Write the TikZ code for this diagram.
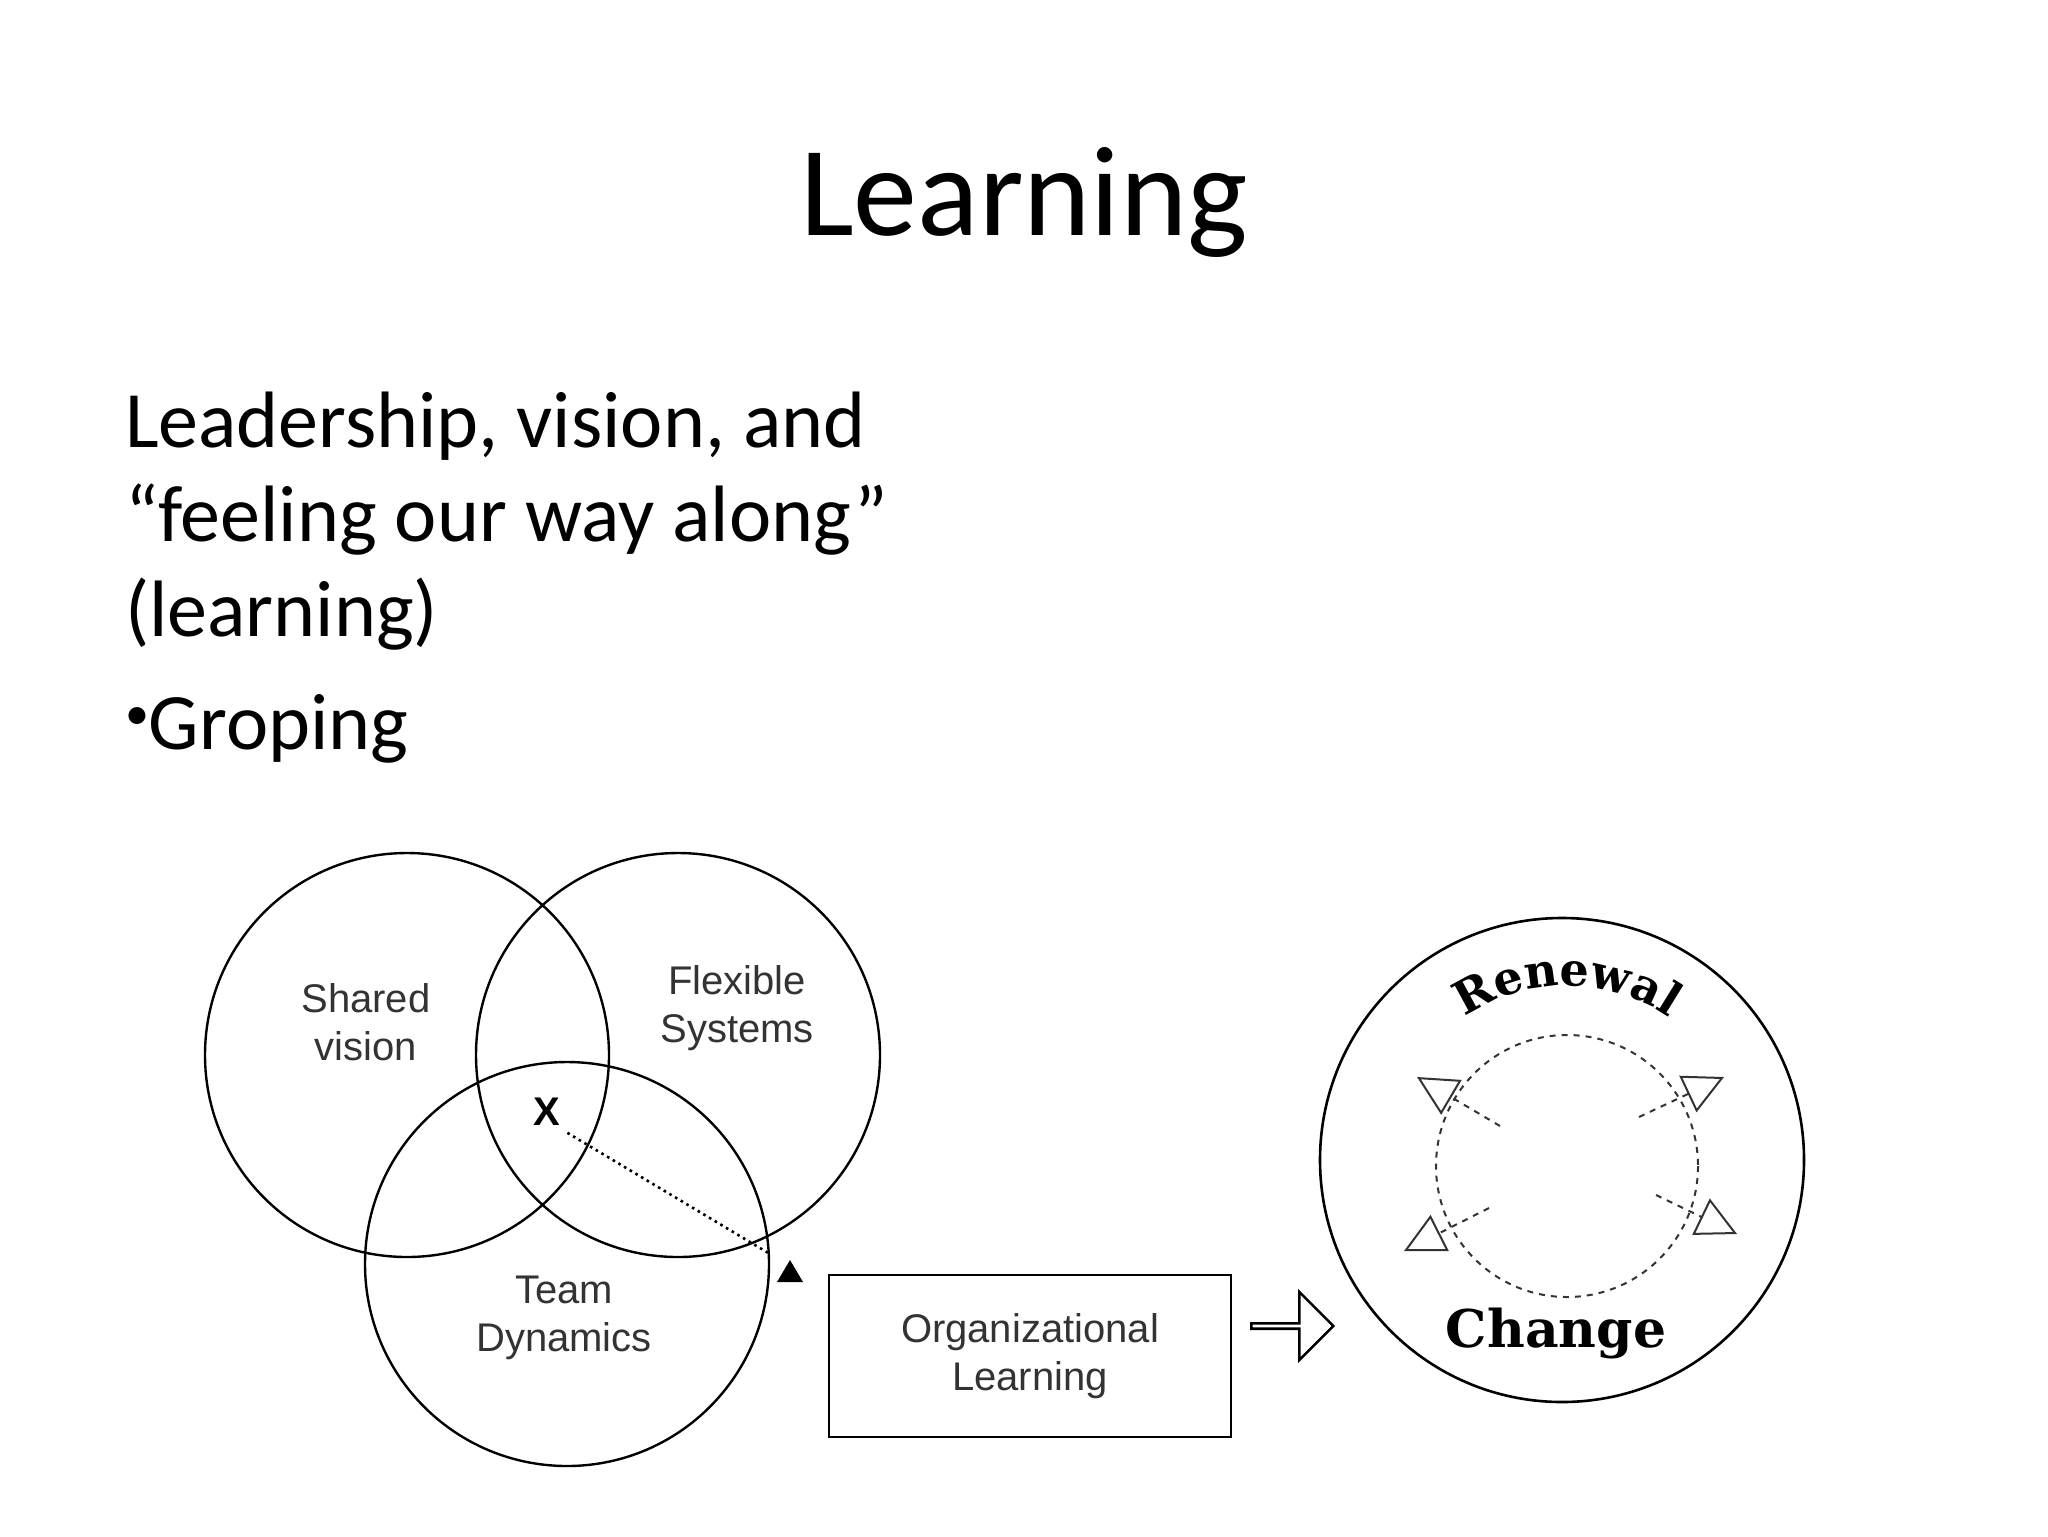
\documentclass[tikz,border=0pt]{standalone}
\usepackage{fontspec}
\setmainfont{Carlito}
\newfontfamily\arialf{Liberation Sans}
\newfontfamily\serf{DejaVu Serif}
\usetikzlibrary{arrows.meta,decorations.text,shapes.arrows}
\begin{document}
\begin{tikzpicture}[x=0.5pt,y=-0.5pt,
  venn/.style={draw,line width=1.2pt,circle,minimum size=202pt,inner sep=0pt},
  lbl/.style={font=\arialf\fontsize{20}{24}\selectfont,text=black!80,align=center},
  cyc/.style={draw=black!80,dashed,line width=1pt,-{Triangle[open,length=20pt,width=20pt]}}]
\useasboundingbox (0,0) rectangle (2048,1536);
\node[font=\fontsize{64}{76}\selectfont] (title) at (1024,202) {Learning};
\node[anchor=west,font=\fontsize{40}{48}\selectfont] (l1) at (118,426) {Leadership, vision, and};
\node[anchor=west,font=\fontsize{40}{48}\selectfont] (l2) at (118,520) {“feeling our way along”};
\node[anchor=west,font=\fontsize{40}{48}\selectfont] (l3) at (118,614) {(learning)};
\node[anchor=west,font=\fontsize{40}{48}\selectfont] (l4) at (118,729) {\raisebox{0.25em}{\fontsize{24}{24}\selectfont•}Groping};
\node[venn] (sv) at (407,1055) {};
\node[venn] (fs) at (678,1055) {};
\node[venn] (td) at (567,1264) {};
\node[lbl] (svt) at (366,1022) {Shared\\vision};
\node[lbl] (fst) at (737,1008) {Flexible\\Systems};
\node[font=\arialf\bfseries\fontsize{20}{24}\selectfont] (x) at (547,1112) {X};
\node[lbl] (tdt) at (564,1318) {Team\\Dynamics};
\draw[dotted,line width=1.3pt] (x.south east) -- (770,1254);
\fill (777,1282) -- (803,1282) -- (790,1260) -- cycle;
\node[draw,line width=1.3pt,minimum width=201pt,minimum height=81pt,lbl] (ol) at (1030,1356) {Organizational\\Learning};
\node[draw,line width=1.3pt,single arrow,minimum height=41pt,minimum width=34pt,single arrow head extend=7.5pt,inner sep=0pt] (ar) at (1291,1326) {};
\node[draw,line width=1.3pt,circle,minimum size=242pt,inner sep=0pt] (rc) at (1562,1160) {};
\draw[dashed,line width=1pt,black!80] (1567,1166) circle[radius=131];
\coordinate (ul) at (1417,1077); \coordinate (ur) at (1724,1077);
\coordinate (lr) at (1737,1234); \coordinate (lft) at (1404,1251);
\draw[cyc] (1500,1126) -- (ul);
\draw[cyc] (1639,1117) -- (ur);
\draw[cyc] (1656,1195) -- (lr);
\draw[cyc] (1489,1208) -- (lft);
\begin{scope}[yscale=-1]
\path[decorate,decoration={text along path,text align=center,text={|\serf\bfseries\fontsize{23}{23}\selectfont|Renewal}}]
  (1567,-1166) ++(130:180) arc[start angle=130,end angle=50,radius=180];
\end{scope}
\node[font=\serf\bfseries\fontsize{26}{30}\selectfont] (ch) at (1556,1334) {Change};
\end{tikzpicture}
\end{document}
